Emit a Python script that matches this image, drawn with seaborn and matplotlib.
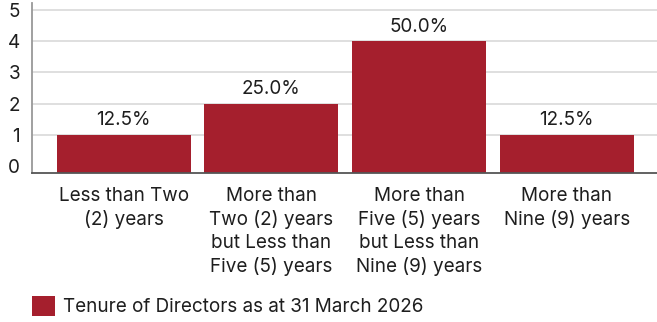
import matplotlib
matplotlib.use("Agg")
import matplotlib.pyplot as plt
import seaborn as sns
import pandas as pd

categories = ["Less than Two\n(2) years",
              "More than\nTwo (2) years\nbut Less than\nFive (5) years",
              "More than\nFive (5) years\nbut Less than\nNine (9) years",
              "More than\nNine (9) years"]
values = [1, 2, 4, 1]
pct_labels = ["12.5%", "25.0%", "50.0%", "12.5%"]
series_name = "Tenure of Directors as at 31 March 2026"
yticks = [0, 1, 2, 3, 4, 5]

bar_color = "#A51F2D"

sns.set_theme(style="white")
plt.rcParams['font.family'] = ['Inter', 'DejaVu Sans']

W, H = 657, 322
fig = plt.figure(figsize=(W / 100, H / 100), dpi=100)
ax_left, ax_top, ax_bottom = 32, 3, 173
ax = fig.add_axes([ax_left / W, 1 - ax_bottom / H, (W - ax_left) / W, (ax_bottom - ax_top) / H])

df = pd.DataFrame({"cat": categories, "val": values})
sns.barplot(data=df, x="cat", y="val", color=bar_color, saturation=1, width=0.907, ax=ax)

ymin, ymax = -0.22, 5.22
ax.set_ylim(ymin, ymax)
ax.set_xlim(-0.62, 3.61)

# extend bars to the bottom of the axis
for p in ax.patches:
    h = p.get_height()
    p.set_y(ymin)
    p.set_height(h - ymin)
    p.set_edgecolor("none")

fs = 13.6
txt = "#1e1e1e"
for i, (v, t) in enumerate(zip(values, pct_labels)):
    ax.annotate(t, (i, v), xytext=(0, 4), textcoords="offset points",
                ha="center", va="bottom", fontsize=fs, color=txt)

ax.set_yticks(yticks)
ax.set_yticklabels([str(y) for y in yticks], fontsize=fs, color=txt)
ax.tick_params(axis="y", length=0, pad=8.5)
ax.tick_params(axis="x", length=0, pad=10, labelsize=fs, labelcolor=txt)
for lbl in ax.get_xticklabels():
    lbl.set_linespacing(1.34)
    lbl.set_va("top")
ax.set_xlabel("")
ax.set_ylabel("")

for y in yticks[1:]:
    ax.axhline(y, color="#dcdcdc", lw=1.3, zorder=0)
ax.set_axisbelow(True)

for s in ["top", "right"]:
    ax.spines[s].set_visible(False)
ax.spines["left"].set_color("#999999")
ax.spines["left"].set_linewidth(1.3)
ax.spines["bottom"].set_color("#555555")
ax.spines["bottom"].set_linewidth(1.3)

from matplotlib.patches import Patch
handle = Patch(facecolor=bar_color, edgecolor="none")
fs_px = fs * 100 / 72
fig.legend(handles=[handle], labels=[series_name], loc="center left",
           bbox_to_anchor=(32 / W, 1 - 306 / H), frameon=False,
           fontsize=fs, handlelength=23 / fs_px, handleheight=23 / fs_px,
           handletextpad=8 / fs_px, borderpad=0, borderaxespad=0,
           labelcolor=txt)

fig.savefig("out.png", dpi=100)
